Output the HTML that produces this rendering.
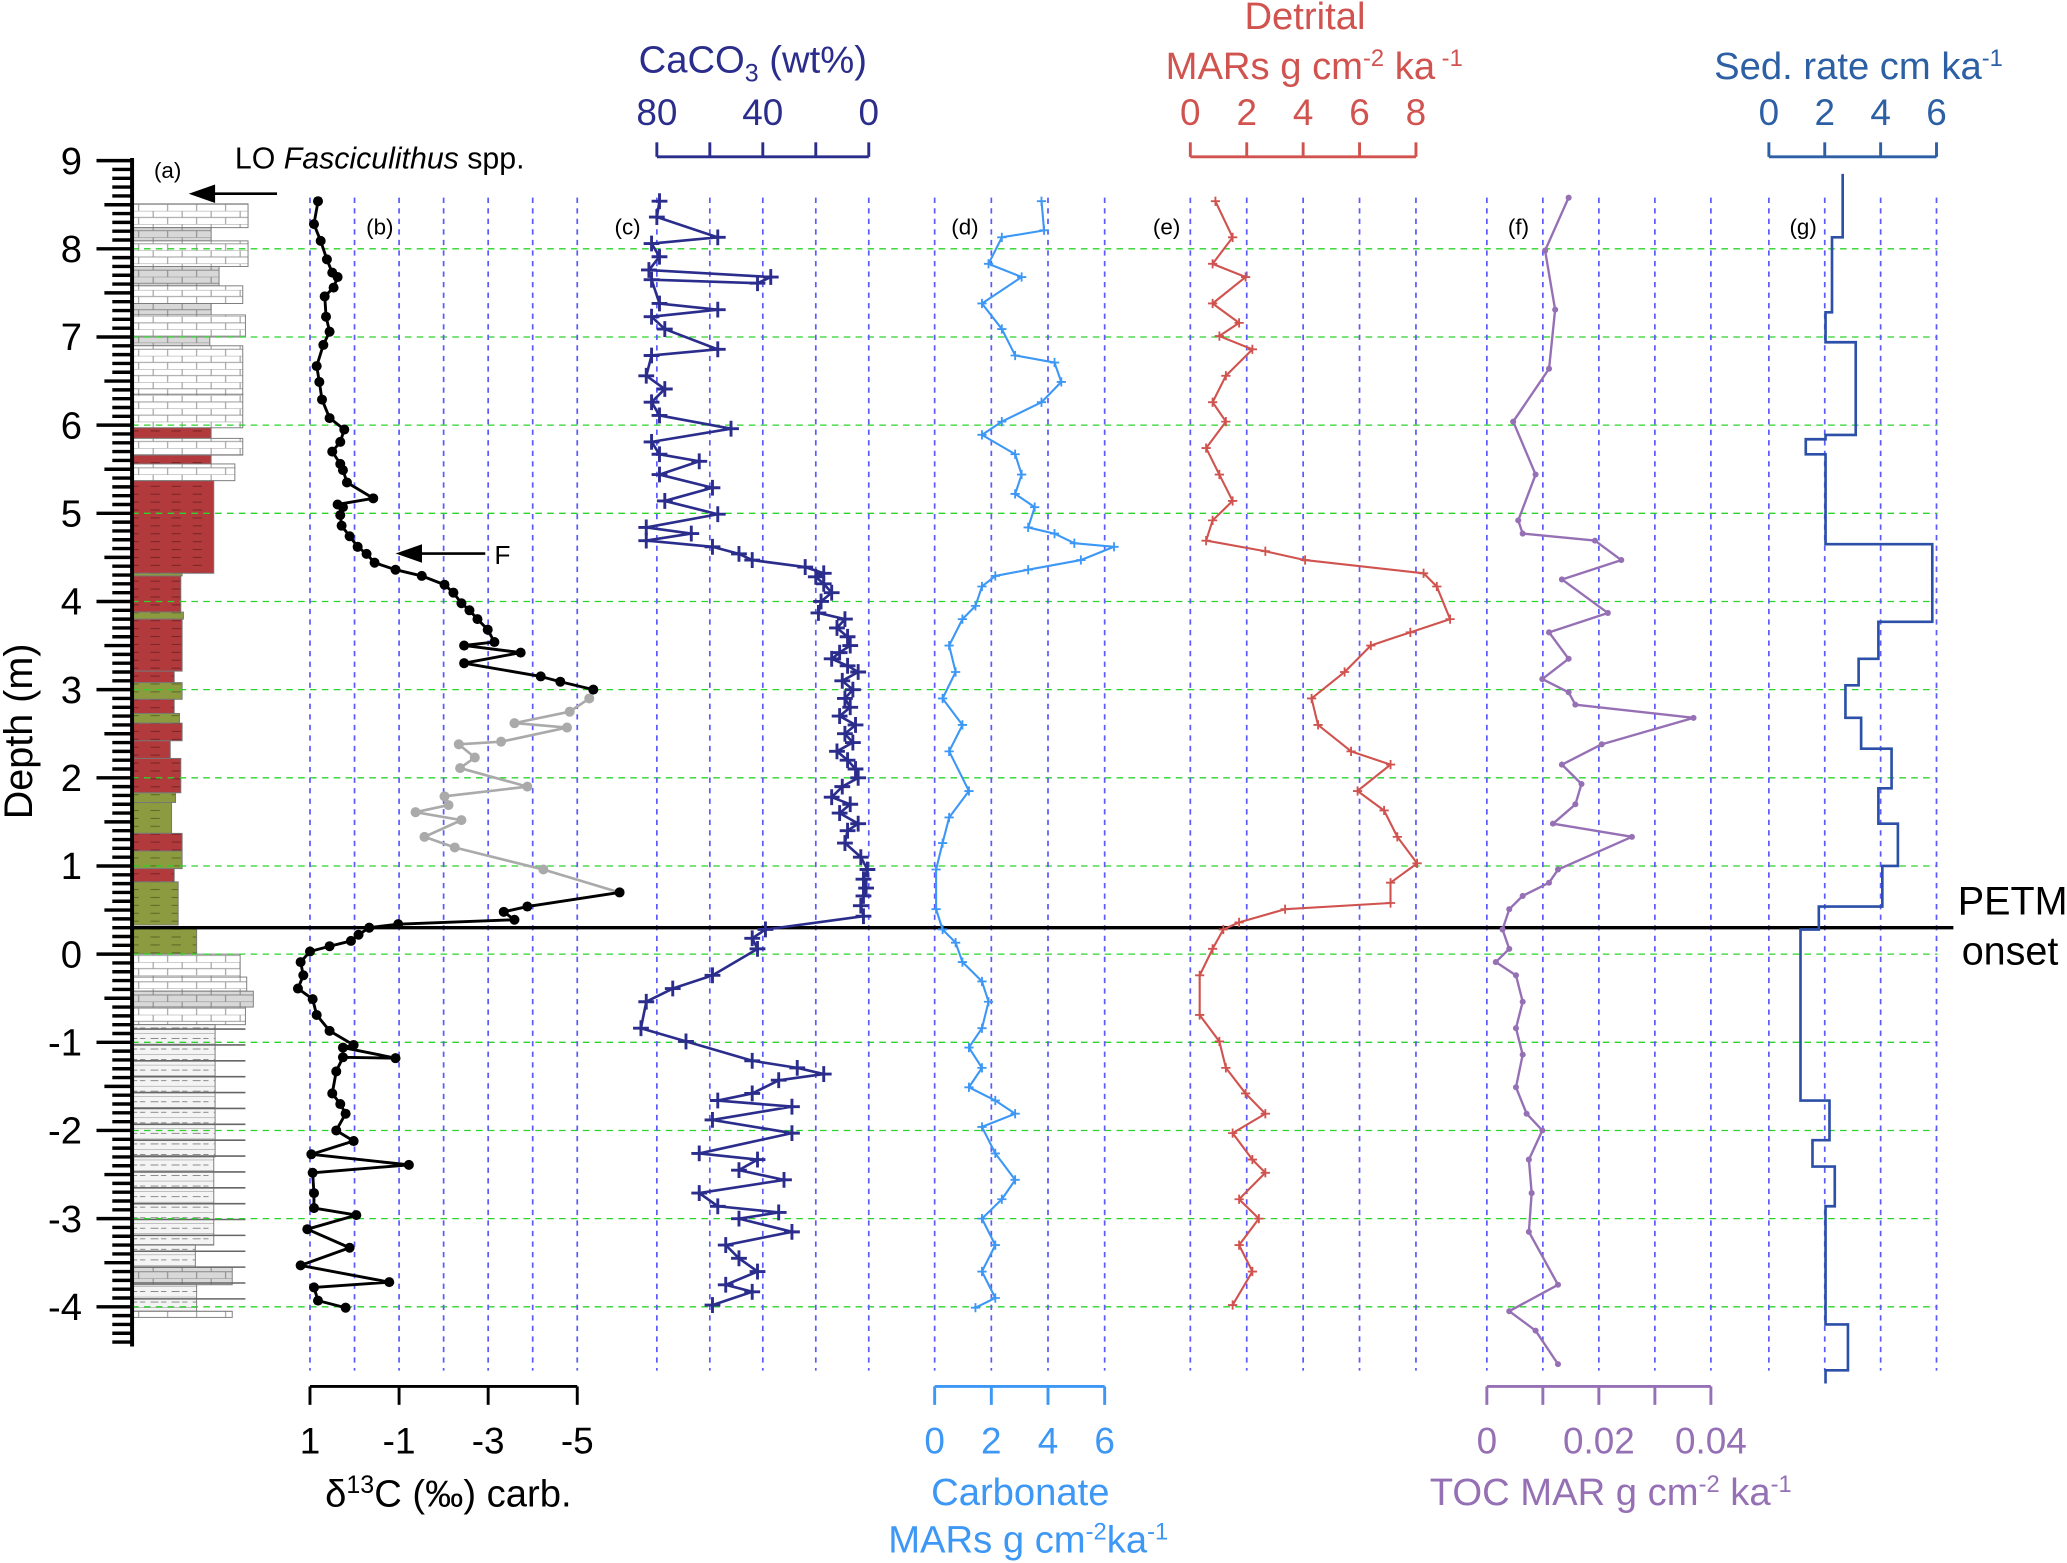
<!DOCTYPE html>
<html><head><meta charset="utf-8"><title>PETM multi-proxy depth profile</title>
<style>
html,body{margin:0;padding:0;background:#fff;}
svg{display:block;}
text{font-family:"Liberation Sans Narrow","Liberation Sans","DejaVu Sans",sans-serif;}
</style></head>
<body>
<svg id="chart" xmlns="http://www.w3.org/2000/svg" width="2067" height="1563" viewBox="0 0 1568 1186">
<defs>
<pattern id="brick" width="22" height="10" patternUnits="userSpaceOnUse">
<rect width="22" height="10" fill="#fff"/>
<path d="M0 0H22M0 5H22M6 0V5M17 5V10" stroke="#999" stroke-width="0.8" fill="none"/>
</pattern>
<pattern id="brickgrey" width="22" height="10" patternUnits="userSpaceOnUse">
<rect width="22" height="10" fill="#d8d8d8"/>
<path d="M0 0H22M0 5H22M6 0V5M17 5V10" stroke="#888" stroke-width="0.8" fill="none"/>
</pattern>
<pattern id="redp" width="16" height="6" patternUnits="userSpaceOnUse">
<rect width="16" height="6" fill="#b23a3c"/>
<path d="M2 3H9" stroke="#7a2428" stroke-width="0.8"/>
</pattern>
<pattern id="olivep" width="16" height="6" patternUnits="userSpaceOnUse">
<rect width="16" height="6" fill="#8c9a40"/>
<path d="M2 3H9" stroke="#5d6a25" stroke-width="0.8"/>
</pattern>
<pattern id="marl" width="16" height="8" patternUnits="userSpaceOnUse">
<rect width="16" height="8" fill="#f4f4f4"/>
<path d="M0 0H16M2 4H8M10 4H14" stroke="#888" stroke-width="0.8"/>
</pattern>
</defs>
<g id="layer"></g>
</svg>
<script>
// ---------- data ----------
const depthTicks = [9,8,7,6,5,4,3,2,1,0,-1,-2,-3,-4];
const gridDepths = [8,7,6,5,4,3,2,1,0,-1,-2,-3,-4];
const petmDepth = 0.3;

const d13cTicks = [1,-1,-3,-5];
const d13cGrid = [1,0,-1,-2,-3,-4,-5];
const d13cDepthA = [8.54,8.28,8.09,7.88,7.73,7.68,7.56,7.46,7.23,7.06,6.91,6.67,6.49,6.29,6.08,5.95,5.81,5.70,5.56,5.49,5.35,5.17,5.10,5.07,4.98,4.86,4.74,4.62,4.54,4.44,4.36,4.29,4.19,4.10,3.98,3.90,3.80,3.68,3.54,3.50,3.42,3.30,3.15,3.09,3.00];
const d13cValA = [0.82,0.91,0.76,0.62,0.5,0.38,0.47,0.67,0.64,0.56,0.7,0.85,0.79,0.73,0.56,0.23,0.32,0.5,0.32,0.26,0.17,-0.42,0.38,0.26,0.32,0.29,0.11,-0.07,-0.27,-0.45,-0.92,-1.51,-2.02,-2.22,-2.4,-2.58,-2.76,-2.99,-3.14,-2.46,-3.73,-2.46,-4.18,-4.62,-5.36];
const d13cDepthG = [3.00,2.90,2.75,2.62,2.57,2.41,2.38,2.23,2.11,1.90,1.79,1.69,1.61,1.52,1.33,1.21,0.96,0.70];
const d13cValG = [-5.36,-5.27,-4.83,-3.59,-4.77,-3.29,-2.34,-2.7,-2.37,-3.88,-2.02,-2.11,-1.37,-2.4,-1.57,-2.25,-4.24,-5.95];
const d13cDepthB = [0.70,0.54,0.48,0.39,0.34,0.30,0.22,0.15,0.09,0.03,-0.09,-0.24,-0.39,-0.51,-0.69,-0.87,-1.03,-1.06,-1.18,-1.17,-1.33,-1.58,-1.70,-1.81,-2.0,-2.12,-2.27,-2.39,-2.48,-2.71,-2.88,-2.96,-3.12,-3.33,-3.53,-3.72,-3.78,-3.93,-4.01];
const d13cValB = [-5.95,-3.88,-3.35,-3.59,-0.98,-0.33,-0.09,0.08,0.56,1.0,1.21,1.15,1.27,0.94,0.85,0.56,0.02,0.26,-0.92,0.26,0.41,0.5,0.32,0.2,0.41,0.02,0.97,-1.22,0.94,0.91,0.91,-0.04,1.06,0.11,1.21,-0.78,0.91,0.82,0.2];

const cacoTicks = [80,60,40,20,0];
const cacoLabels = [80,40,0];
const cacoDepth = [8.54,8.36,8.13,8.06,7.91,7.76,7.68,7.61,7.65,7.38,7.31,7.23,7.09,6.86,6.79,6.56,6.41,6.26,6.11,5.96,5.81,5.67,5.59,5.44,5.29,5.14,4.99,4.84,4.77,4.69,4.62,4.54,4.47,4.39,4.32,4.28,4.2,4.10,4.0,3.87,3.80,3.7,3.6,3.50,3.42,3.35,3.27,3.20,3.1,3.0,2.90,2.8,2.7,2.60,2.5,2.4,2.30,2.2,2.1,2.00,1.9,1.78,1.7,1.6,1.48,1.4,1.26,1.1,0.96,0.85,0.75,0.66,0.55,0.43,0.28,0.18,0.06,-0.24,-0.39,-0.54,-0.84,-0.99,-1.21,-1.29,-1.36,-1.43,-1.58,-1.66,-1.73,-1.88,-2.03,-2.26,-2.33,-2.45,-2.56,-2.71,-2.86,-2.93,-3.0,-3.15,-3.30,-3.45,-3.60,-3.75,-3.83,-3.98];
const cacoVal = [79,80,57,82,79,83,37,42,82,79,57,82,77,57,82,84,77,82,79,52,82,79,64,79,59,77,57,84,67,84,59,49,44,24,17,20,17,14,18,19,9,12,8,7,11,14,8,4,10,6,9,7,11,5,9,6,12,8,5,4,10,14,7,11,4,8,9,3,0.5,2,1,2,3,2,39,44,42,59,74,84,86,69,44,27,17,34,44,57,29,59,29,64,42,49,32,64,57,34,49,29,54,49,42,54,44,59];

const carbTicks = [0,2,4,6];
const carbDepth = [8.54,8.21,8.13,7.83,7.68,7.38,7.09,6.79,6.71,6.49,6.26,6.04,5.89,5.67,5.44,5.22,5.07,4.84,4.77,4.66,4.62,4.47,4.36,4.29,4.17,3.95,3.80,3.50,3.20,2.90,2.60,2.30,1.85,1.55,1.26,0.96,0.51,0.28,0.13,-0.09,-0.31,-0.54,-0.84,-1.06,-1.29,-1.51,-1.66,-1.81,-1.96,-2.26,-2.56,-2.78,-3.00,-3.30,-3.60,-3.90,-4.01];
const carbVal = [3.77,3.86,2.37,1.9,3.07,1.67,2.37,2.84,4.23,4.47,3.77,2.37,1.67,2.84,3.07,2.84,3.53,3.3,4.23,4.93,6.33,5.16,3.3,2.14,1.67,1.44,0.98,0.51,0.74,0.28,0.98,0.51,1.21,0.51,0.28,0.05,0.05,0.28,0.74,0.98,1.67,1.9,1.67,1.21,1.67,1.21,2.14,2.84,1.67,2.14,2.84,2.37,1.67,2.14,1.67,2.14,1.44];

const detTicks = [0,2,4,6,8];
const detDepth = [8.54,8.13,7.83,7.68,7.38,7.16,7.01,6.86,6.56,6.26,6.04,5.74,5.44,5.14,4.92,4.69,4.57,4.47,4.32,4.17,3.80,3.65,3.50,3.20,2.90,2.60,2.30,2.15,1.85,1.63,1.33,1.03,0.81,0.58,0.51,0.36,0.28,0.06,-0.24,-0.69,-0.99,-1.29,-1.58,-1.81,-2.03,-2.33,-2.48,-2.78,-3.00,-3.30,-3.60,-3.98];
const detVal = [0.89,1.5,0.79,1.96,0.79,1.73,1.03,2.2,1.26,0.79,1.26,0.56,1.03,1.5,0.79,0.56,2.66,4.07,8.27,8.74,9.21,7.8,6.4,5.47,4.3,4.53,5.7,7.1,5.93,6.87,7.34,8.04,7.1,7.1,3.36,1.73,1.17,0.79,0.33,0.33,1.03,1.26,1.96,2.66,1.5,2.2,2.66,1.73,2.43,1.73,2.2,1.5];

const tocTicks = [0,0.01,0.02,0.03,0.04];
const tocLabels = [0,0.02,0.04];
const tocDepth = [8.58,7.98,7.31,6.64,6.04,5.44,4.92,4.77,4.69,4.47,4.25,3.87,3.65,3.35,3.12,2.97,2.83,2.68,2.38,2.15,1.93,1.70,1.48,1.33,0.96,0.81,0.66,0.51,0.28,0.06,-0.09,-0.24,-0.54,-0.84,-1.14,-1.51,-1.81,-2.0,-2.33,-2.71,-3.15,-3.75,-4.05,-4.27,-4.65];
const tocVal = [0.0146,0.0104,0.0122,0.0111,0.0047,0.0087,0.0056,0.0064,0.0193,0.024,0.0134,0.0216,0.0111,0.0146,0.0099,0.0146,0.0158,0.0369,0.0205,0.0134,0.0169,0.0158,0.0118,0.0259,0.0127,0.0111,0.0064,0.004,0.0028,0.004,0.0016,0.0052,0.0064,0.0052,0.0064,0.0052,0.0071,0.0099,0.0075,0.008,0.0075,0.0127,0.004,0.0087,0.0127];

const sedTicks = [0,2,4,6];
const sedTopDepth = [8.85,8.13,7.28,6.94,5.89,5.84,5.67,4.65,3.77,3.35,3.05,2.68,2.33,1.88,1.48,1.0,0.54,0.28,-1.66,-2.11,-2.41,-2.86,-4.2,-4.72];
const sedBotDepth = [8.13,7.28,6.94,5.89,5.84,5.67,4.65,3.77,3.35,3.05,2.68,2.33,1.88,1.48,1.0,0.54,0.28,-1.66,-2.11,-2.41,-2.86,-4.2,-4.72,-4.87];
const sedVal = [2.64,2.26,2.03,3.11,2.03,1.32,2.03,5.85,3.92,3.21,2.74,3.3,4.39,3.92,4.62,4.06,1.79,1.13,2.17,1.56,2.36,2.03,2.83,2.03];

const lithTop = [8.51,8.24,8.09,7.80,7.58,7.38,7.25,7.0,6.9,6.35,5.97,5.85,5.66,5.56,5.37,4.32,4.29,3.88,3.80,3.21,3.08,2.89,2.73,2.62,2.42,2.22,1.83,1.72,1.37,1.17,0.97,0.82,0.30,0.0,-0.26,-0.42,-0.6,-0.8,-2.3,-3.3,-3.55,-3.75,-4.05];
const lithBot = [8.24,8.09,7.80,7.58,7.38,7.25,7.0,6.9,6.35,5.97,5.85,5.66,5.56,5.37,4.32,4.29,3.88,3.80,3.21,3.08,2.89,2.73,2.62,2.42,2.22,1.83,1.72,1.37,1.17,0.97,0.82,0.33,0.0,-0.26,-0.42,-0.6,-0.8,-2.3,-3.3,-3.55,-3.75,-4.05,-4.12];
const lithWidth = [88,60,88,66,84,60,86,59,84,84,60,84,60,78,62,38,37,39,38,32,38,32,36,38,29,37,33,30,38,38,32,35,49,82,87,92,86,63,62,48,76,49,76];
const lithType = ["brick","brickgrey","brick","brickgrey","brick","brickgrey","brick","brickgrey","brick","brick","redp","brick","redp","brick","redp","olivep","redp","olivep","redp","redp","olivep","redp","olivep","redp","redp","redp","olivep","olivep","redp","olivep","redp","olivep","olivep","brick","brick","brickgrey","brick","marl","marl","marl","brickgrey","marl","brick"];

// ---------- scales ----------
const NS = "http://www.w3.org/2000/svg";
const layer = document.getElementById('layer');
function y(d){ return 724 - 66.9*d; }
function xD13(v){ return 235 + (1 - v)*33.8; }
function xCaco(v){ return 659 - v*2.01; }
function xCarb(v){ return 709 + v*21.5; }
function xDet(v){ return 903 + v*21.4; }
function xToc(v){ return 1128 + v*4250; }
function xSed(v){ return 1342 + v*21.2; }
function mk(tag, attrs, parent){
  const e = document.createElementNS(NS, tag);
  for (const k in attrs) e.setAttribute(k, attrs[k]);
  (parent||layer).appendChild(e);
  return e;
}
function txt(s, x0, y0, size, fill, anchor, parent){
  const t = mk('text', {x:x0, y:y0, 'font-size':size, fill:fill, 'text-anchor':anchor||'middle'}, parent);
  t.textContent = s;
  return t;
}

// ---------- lithology ----------
const lithG = mk('g', {});


for (let i=0;i<lithTop.length;i++){
  const r = mk('rect', {x:100, y:y(lithTop[i]), width:lithWidth[i], height:y(lithBot[i])-y(lithTop[i]), fill:'url(#'+lithType[i]+')', stroke:'#777', 'stroke-width':0.7}, lithG);
  
  
}
for (let d=-0.85; d>-4.0; d-=0.18){
  mk('line', {x1:100, x2:186, y1:y(d), y2:y(d), stroke:'#666', 'stroke-width':1.2}, lithG);
}

// ---------- grids ----------
const gridG = mk('g', {});


gridDepths.forEach(d=>{
  mk('line', {x1:100, x2:1470, y1:y(d), y2:y(d), stroke:'#2bd42b', 'stroke-width':1, 'stroke-dasharray':'5,4'}, gridG);
});
const vgrid = [];
d13cGrid.forEach(v=>vgrid.push(xD13(v)));
cacoTicks.forEach(v=>vgrid.push(xCaco(v)));
carbTicks.forEach(v=>vgrid.push(xCarb(v)));
detTicks.forEach(v=>vgrid.push(xDet(v)));
tocTicks.forEach(v=>vgrid.push(xToc(v)));
sedTicks.forEach(v=>vgrid.push(xSed(v)));
vgrid.forEach(x=>{
  mk('line', {x1:x, x2:x, y1:150, y2:1040, stroke:'#5a5aff', 'stroke-width':1.3, 'stroke-dasharray':'4,4'}, gridG);
});

// ---------- depth axis ----------
const axG = mk('g', {});


mk('line', {x1:100, x2:100, y1:y(9)-2, y2:y(-4.45), stroke:'#000', 'stroke-width':3}, axG);
for (let i=90; i>=-44; i--){
  const d = i/10;
  const len = (i%10===0)?27:((Math.abs(i)%5===0)?21:15);
  mk('line', {x1:100-len, x2:100, y1:y(d), y2:y(d), stroke:'#000', 'stroke-width':2.6}, axG);
}
depthTicks.forEach(d=>{
  const t = txt(String(d), 62, y(d)+10, 29, '#000', 'end', axG);
  
  
});
const yt = txt('Depth (m)', 0, 0, 30, '#000', 'middle', axG);
yt.setAttribute('transform', 'translate(24,555) rotate(-90)');



const pl = mk('line', {x1:100, x2:1482, y1:y(petmDepth), y2:y(petmDepth), stroke:'#000', 'stroke-width':2.5});


const pt1 = txt('PETM', 1527, 694, 30, '#000', 'middle');


const pt2 = txt('onset', 1525, 732, 30, '#000', 'middle');



// ---------- axes helper ----------
function topAxis(name, x0, x1, ticks, scale, labels, color){
  const g = mk('g', {});
  
  
  mk('line', {x1:x0, x2:x1, y1:119, y2:119, stroke:color, 'stroke-width':2.2}, g);
  ticks.forEach(v=>mk('line', {x1:scale(v), x2:scale(v), y1:108, y2:119, stroke:color, 'stroke-width':2.2}, g));
  labels.forEach(v=>txt(String(v), scale(v), 95, 28, color, 'middle', g));
  return g;
}
function botAxis(name, x0, x1, ticks, scale, labels, color){
  const g = mk('g', {});
  
  
  mk('line', {x1:x0, x2:x1, y1:1052, y2:1052, stroke:color, 'stroke-width':2.2}, g);
  ticks.forEach(v=>mk('line', {x1:scale(v), x2:scale(v), y1:1052, y2:1066, stroke:color, 'stroke-width':2.2}, g));
  labels.forEach(v=>txt(String(v), scale(v), 1103, 28, color, 'middle', g));
  return g;
}
botAxis('d13c-axis', xD13(1), xD13(-5), [1,-1,-3,-5], xD13, d13cTicks, '#000');
topAxis('caco3-axis', xCaco(80), xCaco(0), cacoTicks, xCaco, cacoLabels, '#2b2d8c');
botAxis('carbonate-mar-axis', xCarb(0), xCarb(6), carbTicks, xCarb, carbTicks, '#3d97f5');
topAxis('detrital-mar-axis', xDet(0), xDet(8), detTicks, xDet, detTicks, '#d0534f');
botAxis('toc-mar-axis', xToc(0), xToc(0.04), tocTicks, xToc, tocLabels, '#9670b5');
topAxis('sed-rate-axis', xSed(0), xSed(6), sedTicks, xSed, sedTicks, '#2c5fa3');

function title(s, x0, y0, color, name){
  const t = mk('text', {x:x0, y:y0, 'font-size':29, fill:color, 'text-anchor':'middle'});
  t.innerHTML = s;
  
  
}
title('δ<tspan font-size="19" dy="-10">13</tspan><tspan dy="10">C (‰) carb.</tspan>', 340, 1143, '#000', 'd13c-title');
title('CaCO<tspan font-size="19" dy="7">3</tspan><tspan dy="-7"> (wt%)</tspan>', 571, 55, '#2b2d8c', 'caco3-title');
title('Carbonate', 774, 1142, '#3d97f5', 'carbonate-title');
title('MARs g  cm<tspan font-size="18" dy="-10">-2</tspan><tspan dy="10">ka</tspan><tspan font-size="18" dy="-10">-1</tspan>', 780, 1178, '#3d97f5', 'carbonate-title-units');
title('Detrital', 990, 22, '#d0534f', 'detrital-title');
title('MARs g  cm<tspan font-size="18" dy="-10">-2</tspan><tspan dy="10"> ka</tspan><tspan font-size="18" dy="-10"> -1</tspan>', 997, 60, '#d0534f', 'detrital-title-units');
title('TOC MAR g  cm<tspan font-size="18" dy="-10">-2</tspan><tspan dy="10"> ka</tspan><tspan font-size="18" dy="-10">-1</tspan>', 1222, 1142, '#9670b5', 'toc-title');
title('Sed. rate cm  ka<tspan font-size="18" dy="-10">-1</tspan>', 1410, 60, '#2c5fa3', 'sed-rate-title');

[['(a)',127,135],['(b)',288,178],['(c)',476,178],['(d)',732,178],['(e)',885,178],['(f)',1152,178],['(g)',1368,178]].forEach(p=>{
  const t = txt(p[0], p[1], p[2], 17, '#000', 'middle');
  
  
});
const lo = mk('text', {x:178, y:128, 'font-size':23, fill:'#000'});
lo.innerHTML = 'LO <tspan font-style="italic">Fasciculithus</tspan> spp.';


mk('line', {x1:210, x2:160, y1:147, y2:147, stroke:'#000', 'stroke-width':2});
mk('polygon', {points:'143,147 163,140 163,154', fill:'#000'});
mk('line', {x1:368, x2:318, y1:420, y2:420, stroke:'#000', 'stroke-width':2});
mk('polygon', {points:'300,420 320,413 320,427', fill:'#000'});
const ft = txt('F', 381, 428, 20, '#000', 'middle');



// ---------- series ----------
function line(depths, vals, sx, color, w, name){
  let d = '';
  for (let i=0;i<depths.length;i++) d += (i?'L':'M') + sx(vals[i]).toFixed(1) + ' ' + y(depths[i]).toFixed(1);
  const p = mk('path', {d:d, fill:'none', stroke:color, 'stroke-width':w, 'stroke-linejoin':'round'});
  
  
}
function dots(depths, vals, sx, color, r, name){
  const g = mk('g', {});
  
  
  for (let i=0;i<depths.length;i++){
    const c = mk('circle', {cx:sx(vals[i]), cy:y(depths[i]), r:r, fill:color}, g);
    
    
  }
}
function crosses(depths, vals, sx, color, s, w, name){
  const g = mk('g', {});
  
  
  for (let i=0;i<depths.length;i++){
    const cx = sx(vals[i]), cy = y(depths[i]);
    const p = mk('path', {d:`M${cx-s} ${cy}H${cx+s}M${cx} ${cy-s}V${cy+s}`, stroke:color, 'stroke-width':w}, g);
    
    
  }
}
line(d13cDepthG, d13cValG, xD13, '#aaaaaa', 2, 'd13c-line-grey');
dots(d13cDepthG, d13cValG, xD13, '#aaaaaa', 3.8, 'd13c-points-grey');
line(d13cDepthA, d13cValA, xD13, '#000', 2.2, 'd13c-line-upper');
dots(d13cDepthA, d13cValA, xD13, '#000', 3.8, 'd13c-points-upper');
line(d13cDepthB, d13cValB, xD13, '#000', 2.2, 'd13c-line-lower');
dots(d13cDepthB, d13cValB, xD13, '#000', 3.8, 'd13c-points-lower');

line(cacoDepth, cacoVal, xCaco, '#2b2d8c', 2, 'caco3-line');
crosses(cacoDepth, cacoVal, xCaco, '#2b2d8c', 6, 2.2, 'caco3-points');

line(carbDepth, carbVal, xCarb, '#3d97f5', 1.6, 'carbonate-mar-line');
crosses(carbDepth, carbVal, xCarb, '#3d97f5', 3.5, 1.4, 'carbonate-mar-points');

line(detDepth, detVal, xDet, '#d0534f', 1.6, 'detrital-mar-line');
crosses(detDepth, detVal, xDet, '#d0534f', 3.5, 1.4, 'detrital-mar-points');

line(tocDepth, tocVal, xToc, '#9670b5', 1.8, 'toc-mar-line');
dots(tocDepth, tocVal, xToc, '#9670b5', 2.3, 'toc-mar-points');

(function(){
  let d = '';
  for (let i=0;i<sedVal.length;i++){
    const x = xSed(sedVal[i]);
    d += (i?'L':'M') + x.toFixed(1) + ' ' + y(sedTopDepth[i]).toFixed(1) + 'L' + x.toFixed(1) + ' ' + y(sedBotDepth[i]).toFixed(1);
  }
  const p = mk('path', {d:d, fill:'none', stroke:'#2c4fa8', 'stroke-width':2});
  
  
})();
</script>
</body></html>
